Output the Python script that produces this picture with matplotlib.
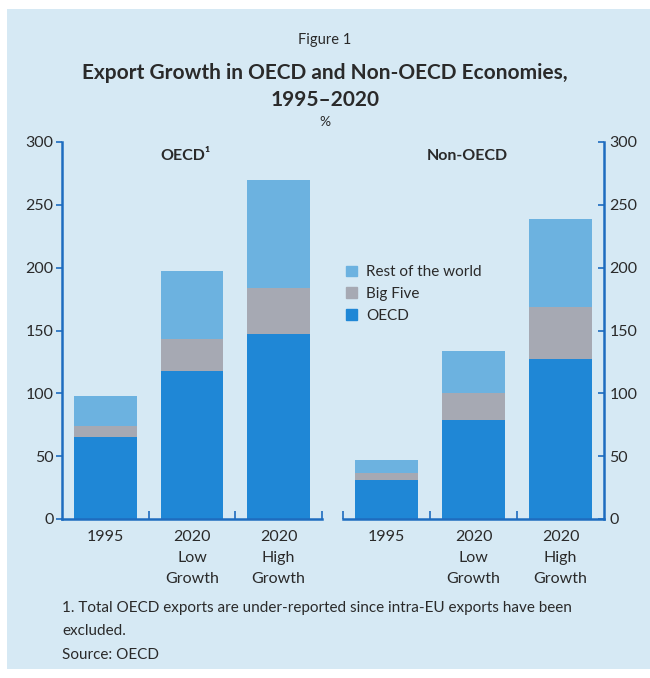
import matplotlib
matplotlib.use("Agg")
import matplotlib.pyplot as plt
from matplotlib.patches import Patch, Rectangle
import numpy as np

plt.rcParams['font.family'] = ['Lato', 'DejaVu Sans']

# values (%)
categories = ['1995', '2020\nLow\nGrowth', '2020\nHigh\nGrowth']
series = ['OECD', 'Big Five', 'Rest of the world']

oecd_oecd = [65, 118, 147]
oecd_big5 = [9, 25, 37]
oecd_rest = [24, 54, 86]

non_oecd_oecd = [31, 79, 127]
non_oecd_big5 = [6, 21, 42]
non_oecd_rest = [10, 34, 70]

colors = ['#1f87d6', '#a6a9b3', '#6cb2e0']
bg = '#d6e9f4'
axis_blue = '#1e6cbf'
text_col = '#2a2a2a'

W, H = 650, 678
fig = plt.figure(figsize=(W / 100, H / 100), dpi=100)
fig.patch.set_facecolor('white')
fig.patches.append(Rectangle((7 / W, 1 - 669 / H), 1 - 7 / W, (669 - 9) / H,
                             transform=fig.transFigure, facecolor=bg,
                             edgecolor='none', zorder=-10))

def fy(py):
    return 1 - py / H

ax1 = fig.add_axes([62 / W, fy(519), 260 / W, (519 - 142) / H])
ax2 = fig.add_axes([343 / W, fy(519), 261 / W, (519 - 142) / H])

x = np.arange(len(categories))
width = 0.72

def draw_panel(ax, vals, minor, title):
    bottom = np.zeros(len(categories))
    for v, c, name in zip(vals, colors, series):
        ax.bar(x, v, width, bottom=bottom, color=c, label=name, zorder=2)
        bottom += np.array(v)
    ax.set_facecolor('none')
    ax.set_xlim(-0.5, 2.5)
    ax.set_ylim(0, 300)
    ax.set_yticks(np.arange(0, 301, 50))
    ax.set_xticks(x)
    ax.set_xticklabels(categories, fontsize=11.5, color=text_col, linespacing=1.62,
                       va='top')
    ax.set_xticks(minor, minor=True)
    ax.tick_params(axis='x', which='major', length=0, pad=8)
    ax.tick_params(axis='x', which='minor', direction='in', length=6,
                   width=1.2, color=axis_blue)
    for s in ['top', 'left', 'right', 'bottom']:
        ax.spines[s].set_visible(False)
    ax.spines['bottom'].set_visible(True)
    ax.spines['bottom'].set_color(axis_blue)
    ax.spines['bottom'].set_linewidth(1.8)
    ax.text(0.475, 0.963, title, transform=ax.transAxes, ha='center',
            va='center', fontsize=11.5, fontweight='bold', color=text_col)

draw_panel(ax1, [oecd_oecd, oecd_big5, oecd_rest], [0.5, 1.5, 2.5], 'OECD¹')
draw_panel(ax2, [non_oecd_oecd, non_oecd_big5, non_oecd_rest], [-0.5, 0.5, 1.5], 'Non-OECD')

ax1.spines['left'].set_visible(True)
ax1.spines['left'].set_color(axis_blue)
ax1.spines['left'].set_linewidth(1.8)
ax1.tick_params(axis='y', direction='out', length=4, width=1.2, color=axis_blue,
                labelsize=11.5, labelcolor=text_col, pad=2)

ax2.spines['right'].set_visible(True)
ax2.spines['right'].set_color(axis_blue)
ax2.spines['right'].set_linewidth(1.8)
ax2.yaxis.tick_right()
ax2.tick_params(axis='y', direction='in', length=4, width=1.2, color=axis_blue,
                labelsize=11.5, labelcolor=text_col, pad=4)

handles = [Patch(color=colors[2]), Patch(color=colors[1]), Patch(color=colors[0])]
fig.legend(handles, ['Rest of the world', 'Big Five', 'OECD'],
           loc='center left', bbox_to_anchor=(346 / W, fy(294)),
           frameon=False, fontsize=11, handlelength=0.7, handleheight=0.7,
           handletextpad=0.6, labelspacing=0.5, borderpad=0, borderaxespad=0,
           labelcolor=text_col)

fig.text(0.5, fy(40), 'Figure 1', ha='center', va='center', fontsize=10.5, color=text_col)
fig.text(0.5, fy(73), 'Export Growth in OECD and Non-OECD Economies,', ha='center',
         va='center', fontsize=15, fontweight='bold', color=text_col)
fig.text(0.5, fy(100), '1995–2020', ha='center', va='center', fontsize=15,
         fontweight='bold', color=text_col)
fig.text(0.5, fy(122), '%', ha='center', va='center', fontsize=10, color=text_col)

fig.text(62 / W, fy(608), '1. Total OECD exports are under-reported since intra-EU exports have been',
         ha='left', va='center', fontsize=11, color=text_col)
fig.text(62 / W, fy(631), 'excluded.', ha='left', va='center', fontsize=11, color=text_col)
fig.text(62 / W, fy(655), 'Source: OECD', ha='left', va='center', fontsize=11, color=text_col)

fig.savefig('out.png', dpi=100, facecolor=fig.get_facecolor())
